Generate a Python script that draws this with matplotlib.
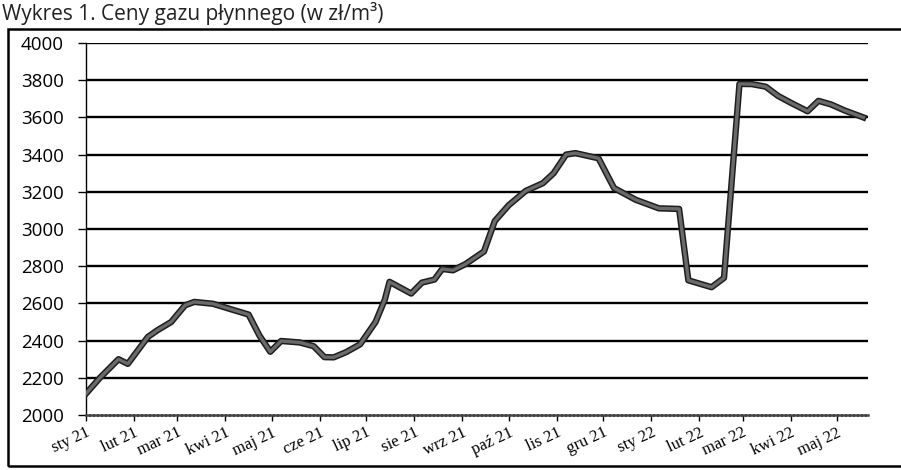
import matplotlib
matplotlib.use("Agg")
import matplotlib.pyplot as plt
import matplotlib.patches as mpatches
import pandas as pd

# Data i cena gazu (zl/m3)
dates = ["2021-01-01", "2021-01-10", "2021-01-22", "2021-01-28", "2021-02-10",
         "2021-02-16", "2021-02-25", "2021-03-06", "2021-03-12", "2021-03-24",
         "2021-04-04", "2021-04-16", "2021-04-23", "2021-04-30", "2021-05-07",
         "2021-05-19", "2021-05-28", "2021-06-04", "2021-06-10", "2021-06-18",
         "2021-06-27", "2021-07-07", "2021-07-13", "2021-07-16", "2021-07-30",
         "2021-08-06", "2021-08-14", "2021-08-19", "2021-08-26", "2021-09-03",
         "2021-09-15", "2021-09-22", "2021-10-01", "2021-10-12", "2021-10-23",
         "2021-10-30", "2021-11-07", "2021-11-13", "2021-11-28", "2021-12-08",
         "2021-12-22", "2022-01-06", "2022-01-19", "2022-01-25", "2022-02-09",
         "2022-02-17", "2022-02-27", "2022-03-07", "2022-03-16", "2022-03-24",
         "2022-04-02", "2022-04-12", "2022-04-19", "2022-04-27", "2022-05-06",
         "2022-05-18"]
prices = [2115, 2200, 2300, 2275, 2420,
          2455, 2500, 2590, 2608, 2598,
          2570, 2540, 2427, 2340, 2398,
          2390, 2370, 2311, 2310, 2338,
          2380, 2500, 2621, 2716, 2653,
          2712, 2728, 2785, 2778, 2811,
          2879, 3043, 3128, 3205, 3246,
          3300, 3400, 3408, 3380, 3220,
          3157, 3111, 3108, 2724, 2687,
          2737, 3780, 3779, 3765, 3715,
          3675, 3633, 3689, 3670, 3637,
          3600]

month_labels = ["sty 21", "lut 21", "mar 21", "kwi 21", "maj 21", "cze 21",
                "lip 21", "sie 21", "wrz 21", "paź 21", "lis 21", "gru 21",
                "sty 22", "lut 22", "mar 22", "kwi 22", "maj 22"]
y_ticks = [2000, 2200, 2400, 2600, 2800, 3000, 3200, 3400, 3600, 3800, 4000]

df = pd.DataFrame({"data": pd.to_datetime(dates), "cena": prices})

fig = plt.figure(figsize=(9.01, 4.70), dpi=100)
W, H = 901, 470

# Ramka wokol wykresu (prawa krawedz poza obrazkiem)
fig.patches.append(mpatches.Rectangle((8 / W, 4 / H), 1.0, (441 - 4) / H,
                                      transform=fig.transFigure, fill=False,
                                      edgecolor="black", linewidth=1.8))

fig.text(2 / W, 1 - 20 / H, "Wykres 1. Ceny gazu płynnego (w zł/m³)",
         fontsize=15, family="Open Sans", ha="left", va="baseline",
         color="#222222")

ax = fig.add_axes([86 / W, 55 / H, (868 - 86) / W, (415 - 43) / H])

# Linia: ciemna obwodka + szary srodek
ax.plot(df["data"], df["cena"], color="#1e1e1e", linewidth=4.6,
        solid_joinstyle="round", zorder=3)
ax.plot(df["data"], df["cena"], color="#6a6a6a", linewidth=2.4,
        solid_joinstyle="round", zorder=4)

ax.set_ylim(2000, 4000)
ax.set_yticks(y_ticks)
ax.set_xlim(pd.Timestamp("2021-01-01"), pd.Timestamp("2022-05-21"))

month_starts = pd.date_range("2021-01-01", periods=len(month_labels), freq="MS")
ax.set_xticks(month_starts)
ax.set_xticklabels(month_labels, rotation=25, ha="right",
                   rotation_mode="anchor", family="Liberation Serif",
                   fontsize=12)
for lab in ax.get_yticklabels():
    lab.set_family("Open Sans")
    lab.set_fontsize(13.5)

for v in y_ticks[1:]:
    ax.axhline(v, color="black", linewidth=1.7, zorder=1)

for side in ["top", "right"]:
    ax.spines[side].set_visible(False)
ax.spines["left"].set_linewidth(1.0)
ax.spines["bottom"].set_linewidth(1.8)
ax.spines["bottom"].set_color("#444444")
ax.spines["bottom"].set_linestyle((0, (1, 0.6)))

ax.tick_params(axis="y", direction="out", length=6, width=1, pad=10)
ax.tick_params(axis="x", direction="out", length=4, width=1, pad=3)

plt.savefig("out.png", dpi=100)
